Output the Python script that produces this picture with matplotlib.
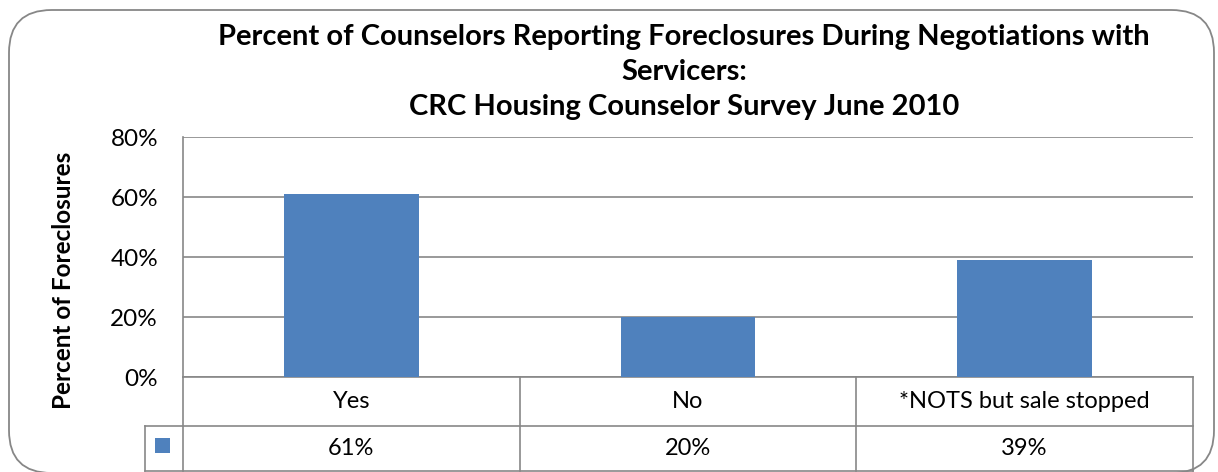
import matplotlib.pyplot as plt
from matplotlib.patches import FancyBboxPatch, Rectangle
from matplotlib.lines import Line2D
from matplotlib.transforms import blended_transform_factory

plt.rcParams['font.family'] = ['Lato', 'DejaVu Sans']

# data
categories = ["Yes", "No", "*NOTS but sale stopped"]
percents = [61, 20, 39]
value_labels = ["61%", "20%", "39%"]
yticks = [0, 20, 40, 60, 80]
ytick_labels = ["0%", "20%", "40%", "60%", "80%"]

title = ("Percent of Counselors Reporting Foreclosures During Negotiations with\n"
         "Servicers:\nCRC Housing Counselor Survey June 2010")

bar_color = "#4F81BD"
line_gray = "#878787"
fs = 17

W, H = 1218, 472
fig = plt.figure(figsize=(W / 100, H / 100), dpi=100)

def fx(px):
    return px / W

def fy(py):
    return 1 - py / H

# outer rounded frame
frame = FancyBboxPatch((fx(9), fy(473)), fx(1214) - fx(9), fy(10) - fy(473),
                       boxstyle="round,pad=0,rounding_size=0.035",
                       transform=fig.transFigure, facecolor="none",
                       edgecolor=line_gray, lw=1.3, mutation_aspect=W / H)
fig.add_artist(frame)

ax = fig.add_axes([fx(183), fy(377), fx(1193) - fx(183), (377 - 137) / H])
ax.set_facecolor("none")
x = list(range(len(categories)))
ax.bar(x, percents, width=0.4, color=bar_color, zorder=3)
ax.set_xlim(-0.5, len(categories) - 0.5)
ax.set_ylim(0, 80)
ax.set_yticks(yticks)
ax.set_yticklabels(ytick_labels, fontsize=fs + 0.5)
ax.set_xticks([])
ax.tick_params(axis="y", length=0, pad=18)
ax.yaxis.grid(True, color=line_gray, lw=1.2)
ax.set_axisbelow(True)
for s in ["top", "right", "bottom"]:
    ax.spines[s].set_visible(False)
ax.spines["left"].set_color(line_gray)
ax.spines["left"].set_linewidth(1.2)

ax.set_ylabel("Percent of Foreclosures", fontsize=17.5, fontweight="bold")
ax.yaxis.set_label_coords((75 - 183) / 1010, (377 - 280) / 240)

# data table under the plot
tr = blended_transform_factory(ax.transData, ax.transAxes)
row1 = -49 / 240
row2 = -94 / 240
key_left = -0.5 - (183 - 145) / 1010 * 3

def tline(xs, ys):
    ax.add_line(Line2D(xs, ys, transform=tr, color=line_gray, lw=1.2, clip_on=False))

tline([-0.5, 2.5], [0, 0])
tline([key_left, 2.5], [row1, row1])
tline([key_left, 2.5], [row2, row2])
tline([key_left, key_left], [row1, row2])
for b in [-0.5, 0.5, 1.5, 2.5]:
    tline([b, b], [0, row2])

for i, (c, v) in enumerate(zip(categories, value_labels)):
    ax.text(i, row1 / 2, c, transform=tr, ha="center", va="center", fontsize=fs)
    ax.text(i, (row1 + row2) / 2, v, transform=tr, ha="center", va="center", fontsize=fs)

ax.add_patch(Rectangle((fx(155), fy(453)), 15 / W, 15 / H, transform=fig.transFigure,
                       facecolor=bar_color, edgecolor="none", clip_on=False))

fig.text(fx(684), fy(72), title, ha="center", va="center", fontsize=21,
         fontweight="bold", linespacing=1.42)

fig.savefig("out.png", dpi=100)
